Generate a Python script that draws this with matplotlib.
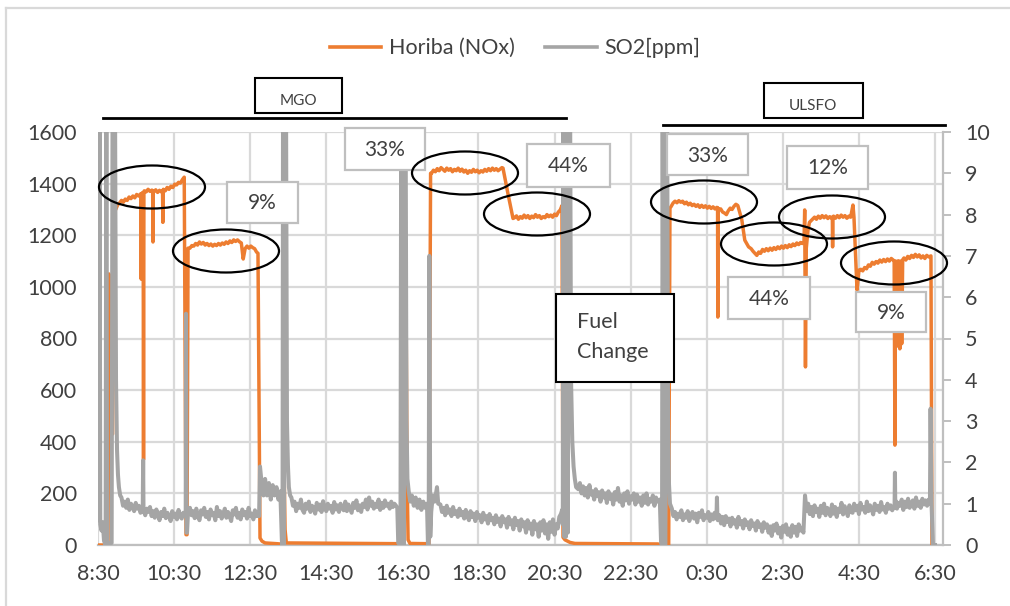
import matplotlib
matplotlib.use("Agg")
import matplotlib.pyplot as plt
from matplotlib.patches import Rectangle, Ellipse
from matplotlib.lines import Line2D

# ---------------- data (time = minutes after 8:30) ----------------
tick_minutes = [0, 120, 240, 360, 480, 600, 720, 840, 960, 1080, 1200, 1320]
tick_labels = ["8:30", "10:30", "12:30", "14:30", "16:30", "18:30", "20:30",
               "22:30", "0:30", "2:30", "4:30", "6:30"]
left_ticks = [0, 200, 400, 600, 800, 1000, 1200, 1400, 1600]
right_ticks = [0, 1, 2, 3, 4, 5, 6, 7, 8, 9, 10]

# ---- Horiba NOx: transitions / spikes as (minute, ppm) ----
nox_events = [(0, 0), (7.9, 0), (15.8, 0), (17.3, 1050), (18.9, 1000), (20.0, 1030), (20.8, 430),
              (23.0, 430), (25.2, 1300),
              (67.8, 1358), (68.2, 1030), (68.6, 1358), (71.2, 1365), (71.8, 330), (72.4, 1368),
              (86.2, 1372), (86.7, 1174), (87.2, 1372), (101.8, 1372), (102.3, 1250),
              (102.8, 1375),
              (138.8, 40), (140.4, 40), (142, 1150),
              (252.3, 1130), (255.5, 27), (258.6, 15), (263.4, 8), (282.3, 5), (292, 3),
              (293.3, 320), (295, 60), (297, 8), (482.6, 5), (484.1, 1030), (485.7, 1000),
              (487.3, 300), (489, 20), (492, 6), (520.4, 5), (522, 5), (524.5, 1440),
              (638.7, 1460), (646.6, 1360), (654.5, 1265),
              (731.7, 1315), (733.3, 30), (736.5, 20), (744.4, 10), (752.2, 6), (883, 4),
              (889.4, 0), (900, 0), (902, 1305),
              (977.1, 1305), (977.5, 883), (977.9, 1305),
              (1009, 1315), (1015.3, 1260), (1020, 1181), (1026, 1155),
              (1113.4, 1175), (1114.5, 1298), (1115.7, 690), (1117, 1150), (1119.7, 1220),
              (1122, 1250),
              (1158.1, 1270), (1158.5, 1155), (1158.9, 1268),
              (1190.6, 1317), (1192.2, 1270), (1197, 988), (1200.1, 1065),
              (1255.6, 1100), (1256.8, 387), (1257.6, 1100), (1260, 780), (1261, 1100),
              (1262, 770), (1263, 1100), (1264.5, 760), (1266, 1100), (1267.5, 780),
              (1269, 1105),
              (1313.6, 1120), (1315.2, 0), (1320, 0)]

# ---- Horiba NOx plateau readings every 3 minutes: (start minute, values) ----
nox_step = 3
nox_p1_start = 28
nox_p1 = [1300, 1318, 1325, 1335, 1328, 1340, 1335, 1348, 1342, 1352, 1345, 1358, 1352, 1360,
          1365, 1372, 1368, 1378, 1370, 1375, 1368, 1376, 1366, 1374, 1368, 1378, 1372, 1385,
          1378, 1390, 1385, 1398, 1395, 1405, 1402, 1415, 1425]
nox_p2_start = 145
nox_p2 = [1150, 1160, 1158, 1168, 1162, 1174, 1166, 1172, 1162, 1168, 1160, 1166, 1158, 1165,
          1160, 1168, 1162, 1170, 1165, 1174, 1168, 1178, 1172, 1182, 1176, 1182, 1175, 1170,
          1108, 1148, 1158, 1150, 1158, 1152, 1148, 1135]
nox_p3_start = 526
nox_p3 = [1440, 1452, 1446, 1458, 1450, 1462, 1455, 1448, 1460, 1452, 1458, 1446, 1455, 1450,
          1460, 1448, 1456, 1445, 1452, 1440, 1450, 1444, 1455, 1446, 1452, 1442, 1450, 1445,
          1455, 1448, 1458, 1450, 1460, 1452, 1458, 1450, 1456, 1462]
nox_p4_start = 657
nox_p4 = [1268, 1275, 1262, 1272, 1266, 1278, 1268, 1276, 1265, 1274, 1268, 1280, 1270, 1276,
          1265, 1272, 1268, 1280, 1272, 1278, 1270, 1282, 1276, 1290, 1298]
nox_p5_start = 904
nox_p5 = [1312, 1325, 1332, 1326, 1334, 1328, 1332, 1322, 1328, 1318, 1324, 1315, 1320, 1312,
          1318, 1308, 1316, 1308, 1314, 1305, 1312, 1304, 1310, 1302, 1308, 1298, 1302, 1290,
          1286, 1280, 1295, 1305, 1300, 1312, 1320]
nox_p6_start = 1030
nox_p6 = [1148, 1138, 1130, 1122, 1135, 1130, 1145, 1138, 1148, 1140, 1150, 1142, 1152, 1145,
          1155, 1148, 1158, 1150, 1160, 1152, 1163, 1156, 1166, 1160, 1170, 1164, 1172, 1168]
nox_p7_start = 1124
nox_p7 = [1255, 1262, 1270, 1262, 1274, 1266, 1276, 1268, 1275, 1265, 1272, 1266, 1274, 1266,
          1276, 1268, 1278, 1270, 1276, 1266, 1274, 1270]
nox_p8a_start = 1203
nox_p8a = [1068, 1062, 1075, 1070, 1085, 1080, 1095, 1088, 1098, 1092, 1104, 1096, 1106, 1098,
           1108, 1100, 1110, 1104]
nox_p8b_start = 1271
nox_p8b = [1112, 1104, 1118, 1110, 1122, 1114, 1126, 1116, 1124, 1112, 1120, 1110, 1122, 1116]

# ---- SO2: transitions / spikes as (minute, ppm) ----
so2_events = [(0, 1.9), (1.2, 0.6), (2.4, 11), (3.6, 0.5), (5.5, 0.35), (7.5, 0.55),
              (9.5, 0.1), (12.0, 0.0), (13.2, 11), (14.4, 0.0), (17, 0.05), (21.5, 0.05),
              (23.0, 11), (26.8, 11), (28.4, 4.0), (30, 2.3), (31.5, 1.7), (33, 1.4), (35, 1.2),
              (70.5, 0.8), (71.2, 2.05), (71.8, 0.8),
              (136, 0.75), (138.3, 0.7), (138.8, 5.6), (139.6, 0.3), (140.4, 0.3), (142, 0.8),
              (254, 0.7), (255.5, 1.9), (258, 1.5), (261, 1.2), (263.5, 1.6), (266.5, 1.2),
              (269.5, 1.5), (272.5, 1.1), (275.5, 1.45), (278.5, 1.2), (281.5, 1.4),
              (284.5, 1.1), (287.5, 1.3), (290, 0.1), (291, 0), (291.8, 11), (293.3, 0),
              (294.9, 11), (296.5, 11), (298, 3), (299.6, 1.9), (301, 1.4), (303, 1.2),
              (472, 0.9), (473.5, 0.05), (477, 0.0), (478.2, 11), (479.4, 0), (480.6, 11),
              (482, 0), (483.3, 11), (485, 11), (486.5, 3), (488, 1.6), (490, 1.3),
              (492.5, 1.05), (495, 1.2), (498, 0.95), (501, 1.15), (504, 0.9), (507, 1.1),
              (510, 0.85), (513, 1.05), (516, 0.9), (518.8, 1.0), (520.4, 0.0), (521.5, 0),
              (522.5, 7.0), (524, 0.2), (525.5, 0.8), (528, 1.2), (531, 1.05), (534.6, 1.4),
              (536.5, 1.0),
              (732, 0.85), (733, 0.5), (734, 11), (735.3, 0.2), (736.6, 11), (738, 0.2),
              (739.4, 11), (741, 0.3), (742.5, 11), (744.5, 11), (746, 4), (748, 2.5),
              (750, 1.9), (752, 1.6), (754, 1.4),
              (886, 1.1), (888, 0.05), (889.5, 0), (890.5, 11), (892, 0), (893.2, 11),
              (894.5, 0), (895.8, 11), (897.5, 11), (899, 3), (900.4, 1.5), (902, 1.0),
              (975.3, 0.65), (976.1, 1.15), (976.9, 0.62),
              (1256.2, 0.9), (1256.8, 1.75), (1257.4, 0.9),
              (1312, 1.0), (1313, 3.3), (1314.5, 1.0), (1316.8, 0.0), (1320, 0.0)]

# ---- SO2 noisy baseline readings every 2.5 minutes: (start minute, values) ----
so2_step = 2.5
so2_a_start = 37
so2_a = [1.15, 0.95, 1.05, 0.9, 1.1, 0.85, 1.0, 0.92, 0.82, 1.02,
         0.88, 0.95, 0.78, 0.9, 0.84, 0.72, 0.88, 0.8, 0.92, 0.7,
         0.82, 0.66, 0.86, 0.74, 0.6, 0.8, 0.7, 0.88, 0.65, 0.78,
         0.7, 0.58, 0.82, 0.68, 0.76, 0.62, 0.85, 0.7, 0.64, 0.78]
so2_b_start = 145
so2_b = [0.9, 0.72, 0.82, 0.65, 0.88, 0.7, 0.6, 0.84, 0.74, 0.9,
         0.68, 0.8, 0.62, 0.86, 0.72, 0.78, 0.6, 0.92, 0.7, 0.82,
         0.64, 0.76, 0.88, 0.66, 0.8, 0.7, 0.58, 0.84, 0.74, 0.9,
         0.66, 0.78, 0.62, 0.86, 0.72, 0.8, 0.64, 0.9, 0.7, 0.76,
         0.62, 0.84, 0.7, 0.78]
so2_d_start = 305
so2_d = [1.15, 0.95, 1.05, 0.82, 1.0, 0.9, 1.1, 0.85, 0.78, 1.0,
         0.88, 1.05, 0.8, 0.95, 0.9, 0.76, 1.02, 0.86, 0.98, 0.8,
         1.06, 0.9, 0.82, 1.0, 0.88, 0.95, 0.78, 1.04, 0.86, 0.96,
         0.8, 1.0, 0.9, 0.84, 1.05, 0.82, 0.98, 0.88, 0.78, 1.02,
         0.9, 1.08, 0.84, 0.96, 0.8, 1.0, 0.92, 1.1, 0.86, 1.15,
         0.95, 1.05, 0.88, 1.0, 0.92, 1.1, 0.85, 1.02, 0.9, 1.08,
         0.95, 1.0, 0.88, 1.05, 0.92, 1.0, 0.95]
so2_f_start = 540
so2_f = [0.98, 0.8, 0.9, 0.72, 0.95, 0.78, 0.86, 0.7, 0.92, 0.75,
         0.82, 0.68, 0.88, 0.72, 0.8, 0.64, 0.85, 0.7, 0.6, 0.82,
         0.68, 0.76, 0.58, 0.8, 0.66, 0.72, 0.55, 0.78, 0.62, 0.7,
         0.52, 0.75, 0.6, 0.66, 0.5, 0.72, 0.56, 0.64, 0.45, 0.7,
         0.55, 0.62, 0.42, 0.68, 0.5, 0.6, 0.38, 0.66, 0.48, 0.58,
         0.35, 0.62, 0.45, 0.55, 0.3, 0.6, 0.4, 0.52, 0.25, 0.58,
         0.38, 0.5, 0.2, 0.55, 0.35, 0.6, 0.28, 0.5, 0.15, 0.55,
         0.32, 0.62, 0.25, 0.5, 0.4, 0.68, 0.75]
so2_h_start = 757.5
so2_h = [1.35, 1.5, 1.25, 1.42, 1.2, 1.38, 1.15, 1.45, 1.22, 1.3,
         1.1, 1.35, 1.18, 1.28, 1.05, 1.32, 1.15, 1.25, 1.02, 1.3,
         1.12, 1.22, 0.98, 1.28, 1.1, 1.38, 1.05, 1.2, 0.95, 1.25,
         1.08, 1.3, 1.0, 1.18, 1.1, 1.25, 0.98, 1.22, 1.05, 1.15,
         0.95, 1.2, 1.02, 1.25, 0.98, 1.12, 1.05, 1.2, 0.95, 1.15, 1.05]
so2_j_start = 905
so2_j = [0.88, 0.7, 0.8, 0.62, 0.76, 0.68, 0.84, 0.6, 0.74, 0.66,
         0.82, 0.58, 0.72, 0.8, 0.64, 0.76, 0.55, 0.78, 0.68, 0.84,
         0.6, 0.72, 0.66, 0.8, 0.58, 0.74, 0.62, 0.78, 0.66,
         0.6, 0.72, 0.52, 0.68, 0.48, 0.7, 0.56, 0.64, 0.45, 0.66,
         0.52, 0.6, 0.42, 0.68, 0.5, 0.58, 0.4, 0.62, 0.48, 0.55,
         0.38, 0.6, 0.46, 0.52, 0.35, 0.58, 0.44, 0.5, 0.32, 0.55, 0.42,
         0.5, 0.3, 0.45, 0.22, 0.48, 0.35, 0.52, 0.28, 0.42, 0.18,
         0.46, 0.32, 0.5, 0.25, 0.4, 0.2, 0.48, 0.3, 0.44, 0.22,
         0.5, 0.35, 0.42, 0.3,
         1.2, 0.82, 1.0, 0.75, 0.92, 0.7, 0.96, 0.8, 0.88, 0.68,
         0.95, 0.78, 1.0, 0.72, 0.9, 0.84, 0.7, 0.98, 0.76, 0.92,
         0.68, 0.88, 0.8, 1.02, 0.74, 0.94, 0.82, 0.7, 0.96, 0.8,
         0.78, 1.0, 0.84, 0.95, 0.75, 1.02, 0.86, 0.92, 0.78, 1.05,
         0.82, 0.96, 0.88, 0.74, 1.0, 0.85, 0.95, 0.8, 1.04, 0.86,
         0.92, 0.78, 1.0, 0.88, 0.96, 0.84,
         0.92, 1.08, 0.88, 1.02, 0.95, 1.1, 0.85, 1.05, 0.92, 1.12,
         0.9, 1.0, 1.08, 0.88, 1.15, 0.95, 1.05, 0.9, 1.12, 0.98,
         1.08, 0.95, 1.1]


def assemble(events, readings, step):
    pts = list(events)
    for start, vals in readings:
        pts.extend((start + step * i, v) for i, v in enumerate(vals))
    pts.sort(key=lambda p: p[0])
    return [p[0] for p in pts], [p[1] for p in pts]


nox_t, nox_v = assemble(nox_events,
                        [(nox_p1_start, nox_p1), (nox_p2_start, nox_p2), (nox_p3_start, nox_p3),
                         (nox_p4_start, nox_p4), (nox_p5_start, nox_p5), (nox_p6_start, nox_p6),
                         (nox_p7_start, nox_p7), (nox_p8a_start, nox_p8a),
                         (nox_p8b_start, nox_p8b)], nox_step)
so2_t, so2_v = assemble(so2_events,
                        [(so2_a_start, so2_a), (so2_b_start, so2_b), (so2_d_start, so2_d),
                         (so2_f_start, so2_f), (so2_h_start, so2_h), (so2_j_start, so2_j)],
                        so2_step)

# ---------------- figure ----------------
W, H = 1010, 606
plt.rcParams['font.family'] = ['Lato', 'DejaVu Sans']
fig = plt.figure(figsize=(W / 100, H / 100), dpi=100)
fig.patch.set_facecolor('white')


def fx(px):
    return px / W


def fy(py):
    return 1 - py / H


ORANGE = '#ED7D31'
GRAY = '#A5A5A5'
GRID = '#D9D9D9'
AXC = '#BFBFBF'
TXT = '#404040'

ax = fig.add_axes([fx(98), fy(545), (943 - 98) / W, (545 - 132) / H])
ax2 = ax.twinx()

ax.plot(nox_t, nox_v, color=ORANGE, lw=2.5, zorder=3)
ax2.plot(so2_t, so2_v, color=GRAY, lw=2.9, zorder=3)

ax.set_xlim(0, 1332.6)
ax.set_ylim(0, 1600)
ax2.set_ylim(0, 10)
ax.set_xticks(tick_minutes)
ax.set_xticklabels(tick_labels)
ax.set_yticks(left_ticks)
ax.set_yticklabels([str(v) for v in left_ticks])
ax2.set_yticks(right_ticks)
ax2.set_yticklabels([str(v) for v in right_ticks])

ax.grid(True, color=GRID, lw=1.6)
ax.set_axisbelow(True)
for sp in ('top', 'left'):
    ax.spines[sp].set_visible(False)
    ax2.spines[sp].set_visible(False)
ax.spines['right'].set_visible(False)
ax.spines['bottom'].set_color(AXC)
ax.spines['bottom'].set_linewidth(1.6)
ax2.spines['bottom'].set_visible(False)
ax2.spines['right'].set_color(AXC)
ax2.spines['right'].set_linewidth(1.6)

ax.tick_params(axis='x', length=0, pad=14, labelsize=15.5, labelcolor=TXT)
ax.tick_params(axis='y', length=0, pad=15, labelsize=15.5, labelcolor=TXT)
ax2.tick_params(axis='y', length=6, width=1.4, color=AXC, pad=10, labelsize=15.5,
                labelcolor=TXT)

# legend
handles = [Line2D([], [], color=ORANGE, lw=2.6), Line2D([], [], color=GRAY, lw=2.6)]
fig.legend(handles, ['Horiba (NOx)', 'SO2[ppm]'], loc='center', ncol=2,
           bbox_to_anchor=(fx(515), fy(48)), frameon=False, fontsize=15.5,
           handlelength=2.4, handletextpad=0.35, columnspacing=1.4, labelcolor=TXT)

# outer chart border (top and left visible)
fig.add_artist(Line2D([fx(6), fx(1010)], [fy(8), fy(8)], color=GRID, lw=1.6))
fig.add_artist(Line2D([fx(6), fx(6)], [fy(8), fy(606)], color=GRID, lw=1.6))

# fuel period lines
fig.add_artist(Line2D([fx(103), fx(566)], [fy(118), fy(118)], color='black', lw=2.0))
fig.add_artist(Line2D([fx(663), fx(945)], [fy(125), fy(125)], color='black', lw=2.0))


def box(x0, y0, x1, y1, ec, lw):
    fig.add_artist(Rectangle((fx(x0), fy(y1)), (x1 - x0) / W, (y1 - y0) / H,
                             transform=fig.transFigure, facecolor='white', edgecolor=ec,
                             lw=lw, zorder=5))


def label(x, y, s, size, ha='center'):
    fig.text(fx(x), fy(y), s, ha=ha, va='center', fontsize=size, color=TXT, zorder=6)


# fuel boxes
box(255, 78, 342, 113, 'black', 1.5)
label(298, 101, 'MGO', 11)
box(764, 83, 863, 118, 'black', 1.5)
label(813, 106, 'ULSFO', 11)
box(556, 294, 674, 382, 'black', 1.5)
label(577, 322, 'Fuel', 15.5, ha='left')
label(577, 352, 'Change', 15.5, ha='left')

# load percentage boxes
for (x0, y0, x1, y1, s) in [(227, 182, 298, 223, '9%'), (345, 128, 425, 170, '33%'),
                            (527, 144, 610, 187, '44%'), (667, 134, 748, 175, '33%'),
                            (787, 146, 868, 189, '12%'), (728, 277, 810, 319, '44%'),
                            (856, 292, 926, 332, '9%')]:
    box(x0, y0, x1, y1, AXC, 1.6)
    label((x0 + x1) / 2, (y0 + y1) / 2 + 1, s, 15)

# ellipses
for (cx, cy) in [(152, 187), (226, 251), (465, 173), (537, 214), (704, 202), (774, 244),
                 (832, 217), (894, 263)]:
    fig.add_artist(Ellipse((fx(cx), fy(cy)), 106 / W, 43 / H, transform=fig.transFigure,
                           fill=False, edgecolor='black', lw=1.6, zorder=7))

fig.savefig('out.png', dpi=100)
